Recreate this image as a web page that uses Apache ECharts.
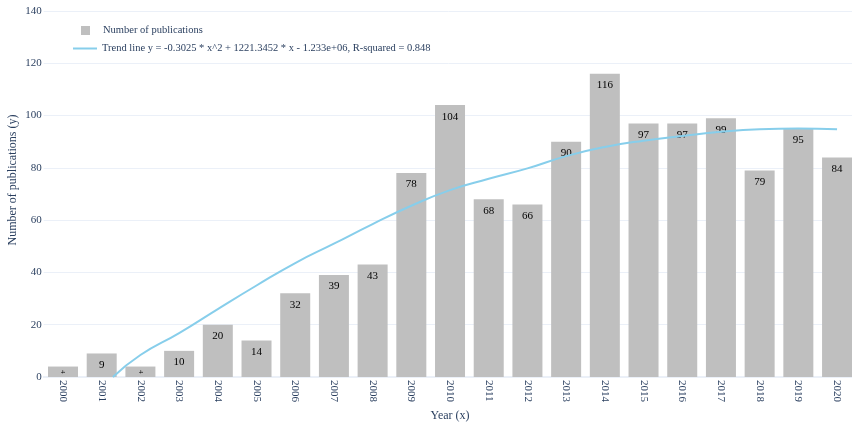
<!DOCTYPE html>
<html>
<head>
<meta charset="utf-8">
<script src="https://cdn.jsdelivr.net/npm/echarts@6/dist/echarts.min.js"></script>
<style>html,body{margin:0;padding:0;background:#fff}#c{width:852px;height:422px}</style>
</head>
<body>
<div id="c"></div>
<script>
const years = ['2000','2001','2002','2003','2004','2005','2006','2007','2008','2009','2010','2011','2012','2013','2014','2015','2016','2017','2018','2019','2020'];
const publications = [4, 9, 4, 10, 20, 14, 32, 39, 43, 78, 104, 68, 66, 90, 116, 97, 97, 99, 79, 95, 84];
// trend line: position along the year axis (0 = 2000) and value
const trendX = [1.29, 2, 3, 4, 5, 6, 7, 8, 9, 10, 11, 12, 13, 14, 15, 16, 17, 18, 19, 20];
const trendY = [0, 8.4, 16.8, 26, 35, 43.6, 51, 58.5, 65.5, 71.5, 75.8, 79.8, 84.5, 88, 90.4, 92.2, 93.8, 94.8, 95.1, 94.8];
const yTicks = [0, 20, 40, 60, 80, 100, 120, 140];

const barName = 'Number of publications';
const lineName = 'Trend line y = -0.3025 * x^2 + 1221.3452 * x - 1.233e+06, R-squared = 0.848';
const serif = '"Liberation Serif", "Times New Roman", serif';
const navy = '#2a3f5f';
const gridC = '#EBF0F8';

const chart = echarts.init(document.getElementById('c'), null, {renderer: 'canvas'});
chart.setOption({
  animation: false,
  backgroundColor: '#fff',
  textStyle: {fontFamily: serif},
  grid: {left: 43.65, top: 11, width: 812.75, height: 366, containLabel: false, outerBoundsMode: 'none'},
  legend: [
    {data: [barName], orient: 'vertical', left: 81, top: 25, padding: 0,
     itemWidth: 9, itemHeight: 9, icon: 'rect',
     textStyle: {fontFamily: serif, fontSize: 10.5, color: navy, padding: [0, 0, 0, 8]}},
    {data: [lineName], orient: 'vertical', left: 73, top: 43, padding: 0,
     itemWidth: 24, itemHeight: 2, icon: 'rect',
     textStyle: {fontFamily: serif, fontSize: 10.5, color: navy}}
  ],
  xAxis: [
    {type: 'category', data: years, boundaryGap: true,
     axisLine: {show: true, lineStyle: {color: gridC, width: 2}},
     axisTick: {show: false},
     axisLabel: {rotate: -90, margin: 3, fontFamily: serif, fontSize: 11, color: navy, interval: 0},
     name: 'Year (x)', nameLocation: 'middle', nameGap: 33, nameMoveOverlap: false,
     nameTextStyle: {fontFamily: serif, fontSize: 12, color: navy}},
    {type: 'value', min: -0.5, max: 20.5, show: false}
  ],
  yAxis: {
    type: 'value', min: yTicks[0], max: yTicks[yTicks.length - 1], interval: 20,
    axisLine: {show: false}, axisTick: {show: false},
    splitLine: {lineStyle: {color: gridC, width: 1}},
    axisLabel: {margin: 2, fontFamily: serif, fontSize: 11, color: navy},
    name: 'Number of publications (y)', nameLocation: 'middle', nameGap: 25, nameMoveOverlap: false,
    nameTextStyle: {fontFamily: serif, fontSize: 12, color: navy, padding: [0, 0, 0, 28]}
  },
  series: [
    {name: barName, type: 'bar', xAxisIndex: 0, barWidth: 30,
     itemStyle: {color: '#BFBFBF'},
     label: {show: true, position: 'insideTop', distance: 6, fontFamily: serif, fontSize: 11, color: '#000'},
     data: publications.map(v => v < 6
        ? {value: v, label: {fontSize: 7, rotate: -90, position: 'inside', distance: 0}}
        : v)},
    {name: lineName, type: 'line', xAxisIndex: 1, smooth: true, symbol: 'none',
     lineStyle: {color: '#87CEEB', width: 2}, itemStyle: {color: '#87CEEB'},
     data: trendX.map((x, i) => [x, trendY[i]])}
  ]
});
</script>
</body>
</html>
